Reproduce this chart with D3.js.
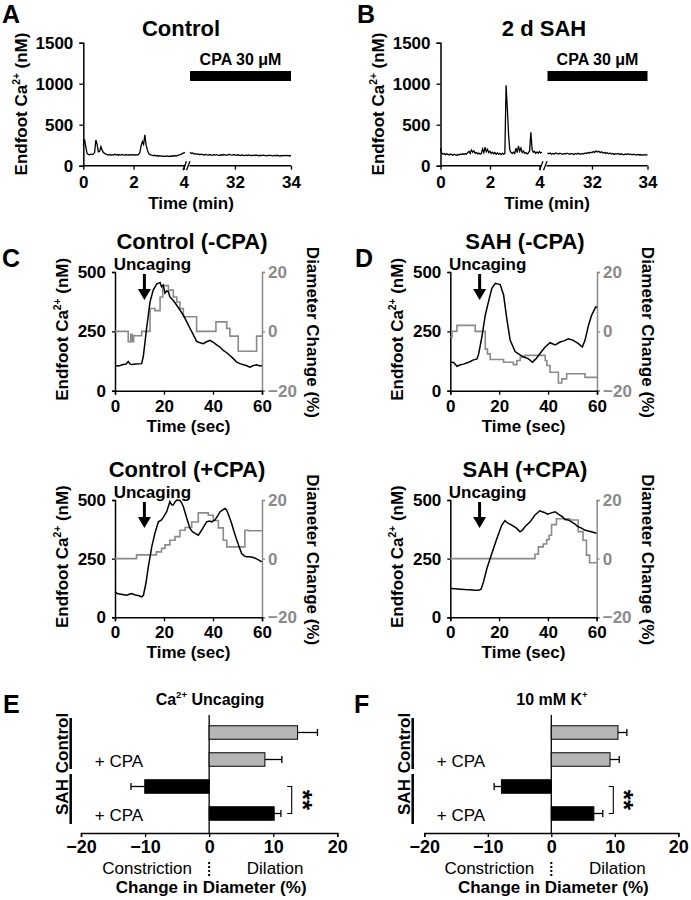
<!DOCTYPE html>
<html><head><meta charset="utf-8">
<script src="https://cdn.jsdelivr.net/npm/d3@7"></script>
<style>body{margin:0;background:#fff} svg text{font-family:"Liberation Sans",Arial,Helvetica,sans-serif}</style>
</head><body><svg id="fig" width="691" height="900"></svg>
<script>
// ---------------- DATA ----------------
const sampleStep = 0.05;          // min between samples in A/B traces
const earlyStart = 0;             // first segment starts at 0 min
const cpaStart = 30.4;            // second segment (CPA) start, min
const cpaBar = [30.4, 34];
const caTicksAB = [0, 500, 1000, 1500];
const timeTicksEarly = [0, 2, 4];
const timeTicksCPA = [32, 34];

const controlEarly = [250,322,230,150,138,132,140,135,142,160,314,260,168,175,232,190,160,150,140,136,
  130,138,128,135,130,140,132,136,128,135,130,138,132,128,136,130,134,128,136,131,
  135,128,134,130,138,160,240,294,260,376,250,192,150,138,130,126,122,128,118,124,
  116,122,114,120,112,118,114,120,112,118,115,121,116,124,118,126,130,136,142,150,156,160];
const controlCPA = [164,150,156,142,146,138,144,134,140,136,131,138,133,129,136,131,127,134,129,135,
  130,126,133,128,136,131,127,134,138,133,129,135,131,127,133,129,125,131,127,123,
  129,125,131,127,122,128,124,130,126,121,127,123,129,125,120,126,122,128,124,119,
  125,121,127,123,118,124,120,126,122,125,121,124,120];
const sahEarly = [215,152,140,148,135,145,138,130,142,135,128,140,132,125,138,130,142,135,145,138,
  150,142,160,175,150,192,165,180,150,160,145,155,140,150,205,160,225,170,200,160,
  175,150,165,145,160,140,155,140,150,135,150,140,150,980,700,380,190,160,150,165,
  150,215,160,243,175,215,160,180,150,160,145,155,180,408,200,165,175,150,168,152,172,155,165];
const sahCPA = [152,146,155,140,150,143,156,147,141,152,145,138,149,142,153,146,140,150,144,137,
  148,142,151,145,139,149,143,155,148,160,152,165,158,172,163,180,168,176,160,170,
  155,162,150,158,146,154,142,150,138,147,141,149,136,145,139,133,143,137,146,135,
  141,132,140,135,129,138,131,136,127,134,129,135,128];

// C / D : [time (s), value]
const caTicksCD = [0, 250, 500];
const diamTicks = [-20, 0, 20];
const secTicks = [0, 20, 40, 60];
const uncagingTime = 12;

const ctrlNoCpaCa = [[0,106],[1.5,104],[3.4,110],[4.5,112],[5.4,123],[6.2,112],[6.8,110],[8.5,112],[10.9,114],[11.6,148],[12.9,263],[14.3,374],[15.6,424],[17,449],[18.4,456],[19,438],[19.7,445],[20.4,411],[21.1,420],[21.8,417],[22.4,395],[23.8,380],[25.2,360],[26.5,340],[27.9,318],[29.3,290],[30.6,263],[32,235],[33.3,208],[34.7,202],[36,198],[37.4,206],[38.8,212],[40.1,204],[41.5,193],[42.9,183],[44.2,170],[45.6,160],[46.9,148],[48.3,135],[49.7,120],[51,114],[52.4,109],[53.8,105],[55.1,99],[56.5,106],[57.8,109],[59.2,104],[60,106]];
const ctrlNoCpaDiam = [[0,0],[5.4,-3.5],[6.4,-1],[7.0,-3.5],[7.6,-1.5],[10.9,0],[14.3,7.7],[16.3,7],[18.4,11.6],[19.5,15.4],[21.8,13.9],[23.8,11.6],[25.2,9.9],[26.5,7.7],[27.9,4.9],[33.3,0],[41.2,3.2],[45.6,1],[46.9,-1.6],[50.3,-6.7],[57.8,-1.6],[60,-1.6]];
const sahNoCpaCa = [[0,120],[1.4,119],[2.7,103],[4.1,109],[5.4,112],[7.5,120],[9.5,130],[10.9,134],[11.6,155],[12.9,226],[14.3,318],[15.6,374],[17,431],[18.4,452],[19.4,450],[20.4,447],[21.8,403],[23.1,304],[24.5,212],[26.5,165],[27.9,155],[29.3,146],[30.6,140],[32,134],[33.6,120],[34.9,133],[36.1,148],[37.4,166],[38.8,184],[40.8,202],[42.9,193],[44.9,205],[46.5,210],[48.3,219],[50.3,212],[52.4,198],[54.0,184],[55.1,212],[56.5,275],[57.8,318],[59.5,353],[60,350]];
const sahNoCpaDiam = [[0,-2],[0.7,0],[2.7,2],[10.2,0],[14.3,-6],[15.2,-7.6],[16.3,-9.5],[21.8,-10.4],[25.8,-11.2],[27.2,-9.8],[28.6,-8.7],[30.6,-8.1],[38.8,-9.8],[39.5,-11.5],[40.8,-13.8],[44.2,-17.4],[45.6,-16],[47.6,-14.3],[55.1,-15.5],[60,-15.5]];
const ctrlCpaCa = [[0,108],[1.2,100],[2.4,98],[3.6,96],[4.8,94],[5.8,98],[6.9,101],[7.9,96],[8.8,94],[9.8,92],[10.9,87],[11.6,94],[12.6,144],[13.6,215],[15,300],[16.3,358],[17.7,407],[19,415],[19.7,426],[21.1,450],[22.4,493],[23.1,480],[23.8,479],[24.5,492],[25.2,500],[26.5,498],[27.2,488],[27.9,471],[29.3,422],[30.6,379],[31.6,365],[32.7,358],[34,350],[35.4,372],[36.4,390],[37.4,407],[38.5,410],[39.5,407],[40.8,415],[41.9,432],[42.9,450],[44,458],[44.9,464],[45.6,457],[46.6,430],[47.6,400],[48.6,365],[49.7,329],[50.7,300],[51.7,272],[52.7,262],[53.7,258],[55,258],[56.5,255],[58,248],[59.9,236]];
const ctrlCpaDiam = [[0,0],[8.8,1.3],[16.9,2.3],[19.0,3.5],[20.4,4.7],[22.4,6.3],[24.5,7.5],[26.5,9.7],[28.6,10.6],[31.3,12.5],[34.0,15.6],[38.1,14.8],[40.1,13],[42.2,10.5],[44.2,6.3],[45.6,4],[53,9.7],[54.4,9.5],[60,9.5]];
const sahCpaCa = [[0,123],[2,122],[4,120],[6,118],[8,117],[10,115],[11.6,115],[12.6,120],[13.6,151],[15,208],[17,272],[19.1,336],[21.1,393],[22.4,412],[23.1,405],[23.8,400],[25.2,393],[26.2,386],[27.2,379],[28.6,365],[29.6,372],[30.6,386],[32.7,407],[34.7,436],[36.7,454],[37.7,450],[38.8,446],[39.8,440],[40.8,443],[42.9,450],[44.9,436],[46,428],[47,417],[48.3,415],[49.7,407],[51,398],[52.4,386],[53.8,380],[55.1,372],[56.5,368],[57.8,365],[59.9,358]];
const sahCpaDiam = [[0,0],[34.7,1.5],[36.1,4],[38.1,5],[39.5,6.5],[40.5,8],[41.5,11.6],[43.5,13.6],[49,13.2],[52.4,9.2],[54.4,6.3],[55.8,1.2],[57.1,-1.4],[60,-1.4]];

// E / F
const barCategories = ['Control', 'Control + CPA', 'SAH', 'SAH + CPA'];
const barGroups = ['Control', 'Control', 'SAH', 'SAH'];
const uncagingMeans = [13.8, 8.7, -10.05, 10.15];
const uncagingErrors = [3.1, 2.65, 2.15, 1.05];
const kMeans = [10.5, 9.25, -7.85, 6.7];
const kErrors = [1.4, 1.45, 1.15, 1.4];
const barTicks = [-20, -10, 0, 10, 20];

// ---------------- DRAWING ----------------
const FONT = '"Liberation Sans", Arial, Helvetica, sans-serif';
const GRAY = '#8a8a8a';
const svg = d3.select('#fig');
const intFmt = d3.format('d');

function label(parent, x, y, parts, o = {}) {
  const fs = o.size || 16;
  const t = parent.append('text').attr('x', x).attr('y', y)
    .attr('font-size', fs).attr('font-weight', o.weight || 'bold')
    .attr('text-anchor', o.anchor || 'middle').attr('fill', o.fill || '#000')
    .attr('font-family', FONT);
  if (o.rotate) t.attr('transform', `rotate(${o.rotate},${x},${y})`);
  if (o.dy) t.attr('dy', o.dy);
  const sh = fs * 0.42;
  let shifted = false;
  parts.forEach(p => {
    if (typeof p === 'string') {
      const s = t.append('tspan').text(p);
      if (shifted) { s.attr('dy', sh); shifted = false; }
    } else {
      t.append('tspan').attr('font-size', fs * 0.6).attr('dy', -sh).text(p.sup);
      shifted = true;
    }
  });
  return t;
}

function styleAxis(g, fs, color, bold = true) {
  g.attr('font-family', FONT).attr('font-size', fs);
  g.selectAll('text').attr('font-weight', bold ? 'bold' : 'normal').attr('fill', color)
    .attr('font-size', fs).attr('font-family', FONT);
  g.selectAll('line').attr('stroke', color).attr('stroke-width', 1.3);
  g.selectAll('.domain').attr('stroke', color).attr('stroke-width', 1.5);
}

// ---- Panels A & B ----
function drawLongTrace(cfg) {
  const g = svg.append('g');
  const y0 = 165.7;
  const y = d3.scaleLinear().domain([0, 1500]).range([y0, 42.7]);
  const xe = d3.scaleLinear().domain([0, 4]).range(cfg.earlyRange);
  const xc = d3.scaleLinear().domain([cpaStart, 34]).range(cfg.cpaRange);

  const ya = g.append('g').attr('transform', `translate(${cfg.earlyRange[0]},0)`)
    .call(d3.axisLeft(y).tickValues(caTicksAB).tickFormat(intFmt).tickSize(4).tickPadding(6));
  styleAxis(ya, 17, '#000');

  const xa1 = g.append('g').attr('transform', `translate(0,${y0})`)
    .call(d3.axisBottom(xe).tickValues(timeTicksEarly).tickFormat(intFmt).tickSize(4).tickPadding(6));
  xa1.select('.domain').remove();
  styleAxis(xa1, 17, '#000');
  const xa2 = g.append('g').attr('transform', `translate(0,${y0})`)
    .call(d3.axisBottom(xc).tickValues(timeTicksCPA).tickFormat(intFmt).tickSize(4).tickPadding(6));
  xa2.select('.domain').remove();
  styleAxis(xa2, 17, '#000');

  g.append('line').attr('x1', cfg.earlyRange[0]).attr('x2', cfg.breakX[0])
    .attr('y1', y0).attr('y2', y0).attr('stroke', '#000').attr('stroke-width', 1.5);
  g.append('line').attr('x1', cfg.breakX[1]).attr('x2', cfg.cpaRange[1])
    .attr('y1', y0).attr('y2', y0).attr('stroke', '#000').attr('stroke-width', 1.5);
  [cfg.breakX[0] - 2.5, cfg.breakX[1] - 3].forEach(bx => {
    g.append('line').attr('x1', bx).attr('y1', y0 + 4.5).attr('x2', bx + 3.5).attr('y2', y0 - 4.5)
      .attr('stroke', '#000').attr('stroke-width', 1.3);
  });

  const line1 = d3.line().x((d, i) => xe(earlyStart + i * sampleStep)).y(d => y(d));
  const line2 = d3.line().x((d, i) => xc(cpaStart + i * sampleStep)).y(d => y(d));
  g.append('path').attr('d', line1(cfg.early)).attr('fill', 'none').attr('stroke', '#000').attr('stroke-width', 1.3);
  g.append('path').attr('d', line2(cfg.cpa)).attr('fill', 'none').attr('stroke', '#000').attr('stroke-width', 1.3);

  g.append('rect').attr('x', xc(cpaBar[0])).attr('width', xc(cpaBar[1]) - xc(cpaBar[0]))
    .attr('y', 71).attr('height', 10).attr('fill', '#000');
  label(g, (xc(cpaBar[0]) + xc(cpaBar[1])) / 2, 65, ['CPA 30 μM'], { size: 16 });

  label(g, cfg.titleX, 36, [cfg.title], { size: 22 });
  label(g, cfg.earlyRange[0] - 62, 104, ['Endfoot Ca', { sup: '2+' }, '  (nM)'], { size: 17, rotate: -90, dy: '0.35em' });
  label(g, cfg.timeX, 209, ['Time (min)'], { size: 17 });
  label(g, cfg.letterX, 23, [cfg.letter], { size: 25, anchor: 'start' });
}

drawLongTrace({ early: controlEarly, cpa: controlCPA, earlyRange: [83.3, 183.8], cpaRange: [190, 291],
  breakX: [185.5, 189.5], title: 'Control', titleX: 181, timeX: 191, letter: 'A', letterX: 2 });
drawLongTrace({ early: sahEarly, cpa: sahCPA, earlyRange: [440.5, 539.5], cpaRange: [547.5, 647.5],
  breakX: [542, 546.5], title: '2 d SAH', titleX: 544, timeX: 547, letter: 'B', letterX: 357 });

// ---- Panels C & D ----
function drawDual(cfg) {
  const g = svg.append('g');
  const x = d3.scaleLinear().domain([0, 60]).range([cfg.x0, cfg.x1]);
  const yCa = d3.scaleLinear().domain([0, 500]).range([cfg.yBot, cfg.yTop]);
  const yD = d3.scaleLinear().domain([-20, 20]).range([cfg.yBot, cfg.yTop]);

  const ra = g.append('g').attr('transform', `translate(${cfg.x1},0)`)
    .call(d3.axisRight(yD).tickValues(diamTicks).tickFormat(intFmt).tickSize(3).tickPadding(3));
  styleAxis(ra, 17, GRAY);
  const la = g.append('g').attr('transform', `translate(${cfg.x0},0)`)
    .call(d3.axisLeft(yCa).tickValues(caTicksCD).tickFormat(intFmt).tickSize(3).tickPadding(6));
  styleAxis(la, 17, '#000');
  const xa = g.append('g').attr('transform', `translate(0,${cfg.yBot})`)
    .call(d3.axisBottom(x).tickValues(secTicks).tickFormat(intFmt).tickSize(4).tickPadding(5));
  styleAxis(xa, 17, '#000');

  g.append('path').attr('d', d3.line().curve(d3.curveStepAfter).x(d => x(d[0])).y(d => yD(d[1]))(cfg.diam))
    .attr('fill', 'none').attr('stroke', GRAY).attr('stroke-width', 1.6);
  g.append('path').attr('d', d3.line().x(d => x(d[0])).y(d => yCa(d[1]))(cfg.ca))
    .attr('fill', 'none').attr('stroke', '#000').attr('stroke-width', 1.5);

  const ax = x(uncagingTime);
  const ay0 = cfg.yTop + 2, ay1 = cfg.yTop + 28;
  g.append('line').attr('x1', ax).attr('x2', ax).attr('y1', ay0).attr('y2', ay1 - 8)
    .attr('stroke', '#000').attr('stroke-width', 3);
  g.append('path').attr('d', `M${ax - 6.5},${ay1 - 11}L${ax + 6.5},${ay1 - 11}L${ax},${ay1}Z`).attr('fill', '#000');
  label(g, ax + 8, cfg.yTop - 2, ['Uncaging'], { size: 17 });

  label(g, cfg.titleX, cfg.yTop - 23, [cfg.title], { size: 22 });
  const mid = (cfg.yTop + cfg.yBot) / 2;
  label(g, cfg.x0 - 53, mid - 2, ['Endfoot Ca', { sup: '2+' }, '  (nM)'], { size: 17, rotate: -90, dy: '0.35em' });
  label(g, cfg.x1 + 51, mid + 1, ['Diameter Change  (%)'], { size: 17, rotate: 90, dy: '0.35em' });
  label(g, (cfg.x0 + cfg.x1) / 2, cfg.yBot + 41, ['Time (sec)'], { size: 17 });
  if (cfg.letter) label(g, cfg.letterX, 267, [cfg.letter], { size: 25, anchor: 'start' });
}

drawDual({ x0: 115, x1: 262, yTop: 272, yBot: 390.7, ca: ctrlNoCpaCa, diam: ctrlNoCpaDiam,
  title: 'Control (-CPA)', titleX: 192, letter: 'C', letterX: 2 });
drawDual({ x0: 450.3, x1: 597, yTop: 272, yBot: 390.7, ca: sahNoCpaCa, diam: sahNoCpaDiam,
  title: 'SAH (-CPA)', titleX: 525, letter: 'D', letterX: 355 });
drawDual({ x0: 115, x1: 262, yTop: 500, yBot: 617.3, ca: ctrlCpaCa, diam: ctrlCpaDiam,
  title: 'Control (+CPA)', titleX: 187 });
drawDual({ x0: 450.3, x1: 596.7, yTop: 500, yBot: 617.3, ca: sahCpaCa, diam: sahCpaDiam,
  title: 'SAH (+CPA)', titleX: 525 });

// ---- Panels E & F ----
function drawBars(cfg) {
  const g = svg.append('g');
  const x = d3.scaleLinear().domain([-20, 20]).range(cfg.xRange);
  const y = d3.scaleBand().domain(barCategories).range([719, 827]).paddingInner(0.5).paddingOuter(0.25);
  const axY = 833;
  const xa = g.append('g').attr('transform', `translate(0,${axY})`)
    .call(d3.axisBottom(x).tickValues(barTicks).tickFormat(intFmt).tickSize(4).tickPadding(3).tickSizeOuter(4));
  styleAxis(xa, 18, '#000');

  g.append('line').attr('x1', x(0)).attr('x2', x(0)).attr('y1', 715).attr('y2', axY)
    .attr('stroke', '#000').attr('stroke-width', 1.3);

  barCategories.forEach((c, i) => {
    const m = cfg.means[i], e = cfg.errors[i];
    const yc = y(c) + y.bandwidth() / 2;
    const end = m + Math.sign(m) * e;
    g.append('line').attr('x1', x(m)).attr('x2', x(end)).attr('y1', yc).attr('y2', yc)
      .attr('stroke', '#000').attr('stroke-width', 1.3);
    g.append('line').attr('x1', x(end)).attr('x2', x(end)).attr('y1', yc - 3.5).attr('y2', yc + 3.5)
      .attr('stroke', '#000').attr('stroke-width', 1.3);
    g.append('rect').attr('x', Math.min(x(0), x(m))).attr('width', Math.abs(x(m) - x(0)))
      .attr('y', y(c)).attr('height', y.bandwidth())
      .attr('fill', barGroups[i] === 'Control' ? '#b5b5b5' : '#000').attr('stroke', '#000').attr('stroke-width', 1);
    if (c.includes('+ CPA')) label(g, cfg.cpaX, yc + 7, ['+ CPA'], { size: 17, weight: 'normal' });
  });

  // group brackets
  g.append('line').attr('x1', cfg.groupX).attr('x2', cfg.groupX).attr('y1', 718).attr('y2', 769)
    .attr('stroke', '#000').attr('stroke-width', 2.5);
  g.append('line').attr('x1', cfg.groupX).attr('x2', cfg.groupX).attr('y1', 774).attr('y2', 824)
    .attr('stroke', '#000').attr('stroke-width', 2.5);
  label(g, cfg.groupX - 8.5, 743, ['Control'], { size: 17, rotate: -90, dy: '0.35em' });
  label(g, cfg.groupX - 8.5, 797, ['SAH'], { size: 17, rotate: -90, dy: '0.35em' });

  // significance
  const y3 = y(barCategories[2]) + y.bandwidth() / 2, y4 = y(barCategories[3]) + y.bandwidth() / 2;
  g.append('path').attr('d', `M${cfg.sigX - 4.5},${y3}H${cfg.sigX}V${y4}H${cfg.sigX - 4.5}`)
    .attr('fill', 'none').attr('stroke', '#000').attr('stroke-width', 1.1);
  label(g, cfg.sigX + 2, (y3 + y4) / 2, ['**'], { size: 26, rotate: 90 });

  label(g, cfg.titleX, 705, cfg.title, { size: 16 });
  label(g, x(0) - 62, 874, ['Constriction'], { size: 17, weight: 'normal' });
  label(g, x(0) + 66, 874, ['Dilation'], { size: 17, weight: 'normal' });
  g.append('line').attr('x1', x(0)).attr('x2', x(0)).attr('y1', 862).attr('y2', 878)
    .attr('stroke', '#000').attr('stroke-width', 2).attr('stroke-dasharray', '2,2');
  label(g, x(0) + 2, 893, ['Change in Diameter (%)'], { size: 17 });
  label(g, cfg.letterX, 713, [cfg.letter], { size: 25, anchor: 'start' });
}

drawBars({ xRange: [81, 337.3], means: uncagingMeans, errors: uncagingErrors, cpaX: 119, groupX: 70.7,
  sigX: 291.7, title: ['Ca', { sup: '2+' }, ' Uncaging'], titleX: 210, letter: 'E', letterX: 3 });
drawBars({ xRange: [424.3, 678.3], means: kMeans, errors: kErrors, cpaX: 461, groupX: 412.7,
  sigX: 613.3, title: ['10 mM K', { sup: '+' }], titleX: 552, letter: 'F', letterX: 354 });
</script></body></html>
